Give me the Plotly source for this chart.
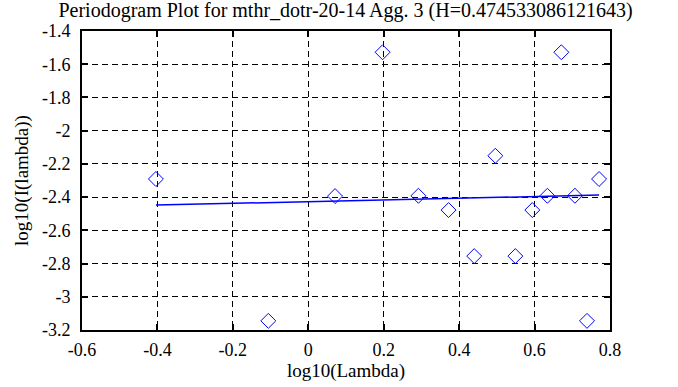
import plotly.graph_objects as go

# periodogram points (log10 lambda, log10 I(lambda))
log_lambda = [-0.404, -0.106, 0.071, 0.197, 0.292, 0.372, 0.440, 0.496,
              0.549, 0.594, 0.634, 0.671, 0.707, 0.739, 0.771]
log_I = [-2.291, -3.145, -2.394, -1.528, -2.392, -2.478, -2.755, -2.151,
         -2.755, -2.478, -2.392, -1.528, -2.392, -3.145, -2.291]

# least-squares fit line endpoints
fit_x = [-0.404, 0.771]
fit_y = [-2.448, -2.388]

x_ticks = [-0.6, -0.4, -0.2, 0, 0.2, 0.4, 0.6, 0.8]
x_tick_labels = ["-0.6", "-0.4", "-0.2", "0", "0.2", "0.4", "0.6", "0.8"]
y_ticks = [-3.2, -3.0, -2.8, -2.6, -2.4, -2.2, -2.0, -1.8, -1.6, -1.4]
y_tick_labels = ["-3.2", "-3", "-2.8", "-2.6", "-2.4", "-2.2", "-2", "-1.8", "-1.6", "-1.4"]

title = "Periodogram Plot for mthr_dotr-20-14 Agg. 3 (H=0.474533086121643)"

fig = go.Figure()
fig.add_trace(go.Scatter(
    x=log_lambda, y=log_I, mode="markers",
    marker=dict(symbol="diamond-open", size=11.5, color="#0000ff",
                line=dict(width=1, color="#0000ff")),
    showlegend=False, hoverinfo="skip"))
fig.add_trace(go.Scatter(
    x=fit_x, y=fit_y, mode="lines",
    line=dict(color="#0000ff", width=1.5),
    showlegend=False, hoverinfo="skip"))

font = "Liberation Serif"
axis_common = dict(
    showgrid=True, gridcolor="black", gridwidth=1, griddash="6px,4px",
    zeroline=False, showline=True, linecolor="black", linewidth=2,
    mirror="ticks", ticks="inside", ticklen=6, tickwidth=2, tickcolor="black",
    tickfont=dict(family=font, size=18, color="black"),
    automargin=False,
)

fig.update_layout(
    width=678, height=387,
    margin=dict(l=82, r=68, t=31, b=57),
    paper_bgcolor="white", plot_bgcolor="white",
    title=dict(text=title, x=0.5096, xanchor="center", y=0.974, yanchor="middle",
               font=dict(family=font, size=20, color="black")),
    font=dict(family=font, color="black"),
    xaxis=dict(range=[-0.6, 0.8], tickvals=x_ticks, ticktext=x_tick_labels,
               ticklabelstandoff=2,
               title=dict(text="log10(Lambda)", font=dict(family=font, size=19), standoff=2),
               **axis_common),
    yaxis=dict(range=[-3.2, -1.4], tickvals=y_ticks, ticktext=y_tick_labels,
               ticklabelstandoff=6,
               title=dict(text="log10(I(lambda))", font=dict(family=font, size=19), standoff=8),
               **axis_common),
)

fig.write_html("out.html", config={"displayModeBar": False},
               post_script="document.body.style.margin='0';")
